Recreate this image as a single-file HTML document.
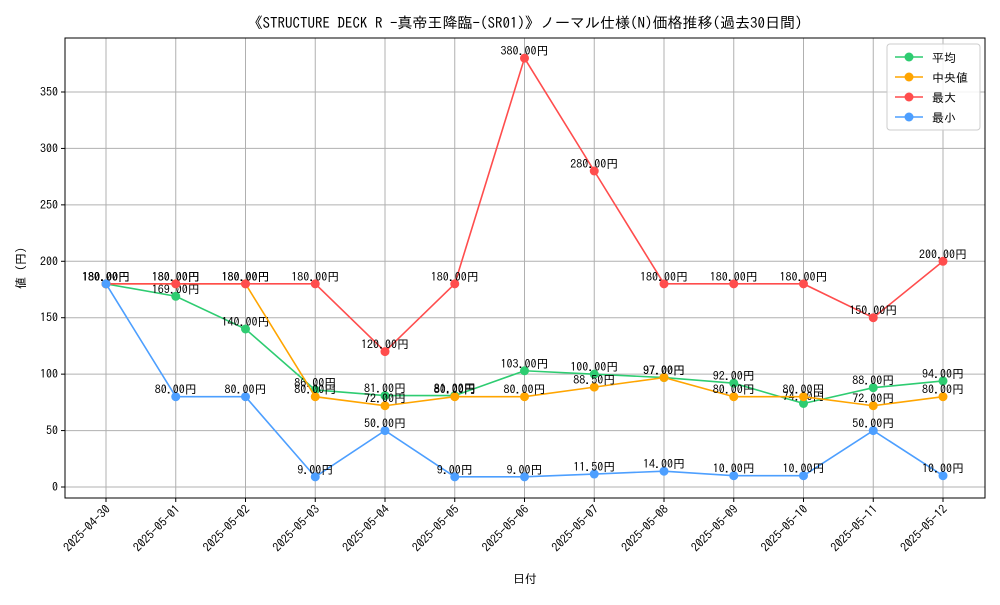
<!DOCTYPE html>
<html><head><meta charset="utf-8"><style>
body{margin:0;background:#fff;}
svg text{font-family:"IPAGothic","Liberation Sans","Noto Sans CJK JP",sans-serif;}
</style></head><body>
<svg id="chart" width="1000" height="600" xmlns="http://www.w3.org/2000/svg">
<rect width="1000" height="600" fill="#fff"/>
<text x="525" y="28" font-size="15" text-anchor="middle">《STRUCTURE DECK R -真帝王降臨-(SR01)》ノーマル仕様(N)価格推移(過去30日間)</text>
<g id="grid"></g><g id="axes"></g><g id="series"></g>
<rect x="65" y="38" width="920" height="460" fill="none" stroke="#000" stroke-width="1"/>
<text x="525" y="583" font-size="12" text-anchor="middle">日付</text>
<text x="0" y="0" font-size="12" text-anchor="middle" transform="translate(25,268) rotate(-90)">値 (円)</text>
<g id="legend"></g>
</svg>
<script>
const dates=["2025-04-30","2025-05-01","2025-05-02","2025-05-03","2025-05-04","2025-05-05","2025-05-06","2025-05-07","2025-05-08","2025-05-09","2025-05-10","2025-05-11","2025-05-12"];
const avgVals=[180,169,140,86,81,81,103,100,97,92,74,88,94];
const medianVals=[180,180,180,80,72,80,80,88.5,97,80,80,72,80];
const maxVals=[180,180,180,180,120,180,380,280,180,180,180,150,200];
const minVals=[180,80,80,9,50,9,9,11.5,14,10,10,50,10];
const yTicks=[0,50,100,150,200,250,300,350];
const seriesNames=["平均","中央値","最大","最小"];
const NS="http://www.w3.org/2000/svg";
function xs(i){return 106+i*(943-106)/(dates.length-1);}
function ys(v){return 487-v*(395/350);}
function mk(tag,attrs,parent){const e=document.createElementNS(NS,tag);for(const k in attrs)e.setAttribute(k,attrs[k]);parent.appendChild(e);return e;}
const grid=document.getElementById('grid'),axes=document.getElementById('axes'),ser=document.getElementById('series');
yTicks.forEach(t=>{const y=ys(t);
 const l=mk('line',{x1:65,x2:985,y1:y,y2:y,stroke:'#b0b0b0','stroke-width':1},grid);
 
 
 mk('line',{x1:61,x2:65,y1:y,y2:y,stroke:'#000'},axes);
 const tx=mk('text',{x:58,y:y+4,'font-size':12,'text-anchor':'end'},axes);tx.textContent=t;
 
 
});
dates.forEach((d,i)=>{const x=xs(i);
 const l=mk('line',{x1:x,x2:x,y1:38,y2:498,stroke:'#b0b0b0','stroke-width':1},grid);
 
 
 mk('line',{x1:x,x2:x,y1:498,y2:502,stroke:'#000'},axes);
 const tx=mk('text',{x:0,y:0,'font-size':12,'text-anchor':'end',transform:`translate(${x+5},${510}) rotate(-45)`},axes);tx.textContent=d;
 
 
});
const all=[[avgVals,'#2ecc71','avg'],[medianVals,'#ffa500','median'],[maxVals,'#ff4d4d','max'],[minVals,'#4d9fff','min']];
all.forEach(([vals,c,n])=>{
 const g=mk('g',{},ser);
 
 
 const p=mk('polyline',{points:vals.map((v,i)=>xs(i)+','+ys(v)).join(' '),fill:'none',stroke:c,'stroke-width':1.6},g);
 
 
 vals.forEach((v,i)=>{
  const ci=mk('circle',{cx:xs(i),cy:ys(v),r:4.5,fill:c},g);
  
  
  const t=mk('text',{x:xs(i),y:ys(v)-3,'font-size':12,'text-anchor':'middle'},g);
  t.textContent=v.toFixed(2)+'円';
  
  
 });
});
const lg=document.getElementById('legend');
mk('rect',{x:887,y:44,width:93,height:86,fill:'#fff','fill-opacity':0.85,stroke:'#ccc',rx:3},lg);
all.forEach(([v,c,n],k)=>{const y=57+k*20;
 const e=mk('g',{},lg);
 
 
 mk('line',{x1:895,x2:923,y1:y,y2:y,stroke:c,'stroke-width':1.6},e);
 mk('circle',{cx:909,cy:y,r:4.5,fill:c},e);
 const t=mk('text',{x:932,y:y+5,'font-size':12},e);t.textContent=seriesNames[k];
});
</script>
</body></html>
